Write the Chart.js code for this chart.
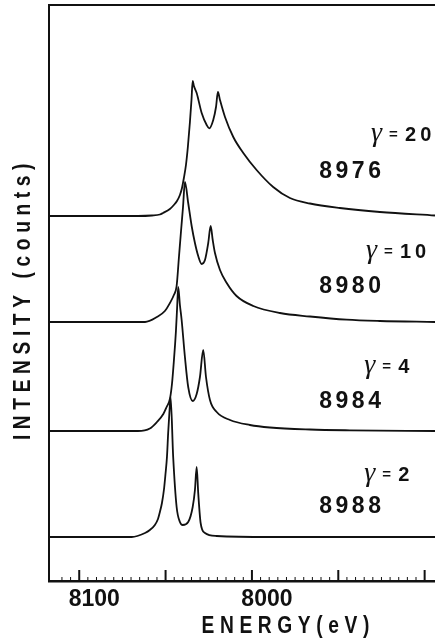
<!DOCTYPE html>
<html>
<head>
<meta charset="utf-8">
<script src="https://cdn.jsdelivr.net/npm/chart.js@4.4.1/dist/chart.umd.min.js"></script>
<style>
  html, body { margin: 0; padding: 0; background: #fff; }
</style>
</head>
<body>
<canvas id="myChart" width="435" height="640"></canvas>
<script>
// Spectra: energy (eV) and intensity above each baseline
var energy20 = [8117.5, 8088.0, 8066.0, 8057.9, 8053.3, 8051.5, 8047.5, 8045.2, 8043.4, 8041.7, 8040.5, 8039.4,
  8038.2, 8037.1, 8035.9, 8035.0, 8034.3, 8033.6, 8032.0, 8029.1, 8026.2, 8024.7, 8022.4, 8020.8, 8019.7, 8018.5,
  8015.6, 8010.8, 8005.0, 7997.3, 7987.7, 7978.0, 7966.4, 7949.1, 7925.9, 7894.0];
var counts20 = [0, 0, 0, 0.5, 1.5, 3, 7, 11, 15, 21, 28, 38,
  51, 69, 94, 116, 135, 130, 123, 103, 91, 87.7, 96, 109, 124, 116,
  99, 79, 63, 46, 29, 18, 12.5, 8, 4, 0.5];

var energy10 = [8117.5, 8088.0, 8061.9, 8055.0, 8050.4, 8047.5, 8045.2, 8043.6, 8042.3, 8041.1, 8039.9, 8038.8,
  8036.9, 8034.9, 8033.0, 8031.1, 8029.1, 8027.2, 8025.3, 8023.9, 8022.7, 8021.4, 8018.5, 8014.6, 8008.9, 7999.2,
  7983.8, 7966.4, 7945.2, 7925.9, 7894.0];
var counts10 = [0, 0, 0, 5, 11, 19, 27, 36, 64, 90, 115, 140,
  119, 96, 79, 66, 58, 62, 79, 96, 82, 69, 52, 39, 26, 16,
  9, 5.5, 2.3, 1, 0];

var energy4 = [8117.5, 8088.0, 8066.0, 8059.1, 8055.0, 8051.3, 8049.4, 8047.5, 8046.3, 8045.2, 8044.0, 8043.3,
  8042.7, 8041.7, 8040.7, 8038.8, 8036.9, 8034.3, 8032.0, 8030.1, 8028.2, 8026.6, 8024.3, 8020.4, 8012.7, 8001.2,
  7989.6, 7966.4, 7943.3, 7894.0];
var counts4 = [0, 0, 0, 2.5, 9, 17, 24, 32, 47, 70, 100, 124,
  144, 126, 111, 74, 44, 30, 37, 54, 81, 54, 31, 19, 11, 6,
  3.5, 1.5, 0.7, 0];

var energy2 = [8117.5, 8088.0, 8069.6, 8061.9, 8059.1, 8056.2, 8054.4, 8053.3, 8052.1, 8050.9, 8050.1, 8049.2,
  8048.5, 8047.8, 8047.1, 8045.6, 8043.6, 8041.7, 8040.1, 8036.9, 8034.3, 8033.0, 8032.0, 8031.1, 8029.7, 8027.2,
  8020.4, 7989.6, 7894.0];
var counts2 = [0, 0, 0, 4, 7, 12, 18, 25, 34, 48, 62, 80,
  104, 124, 140, 80, 30, 15, 12, 15, 30, 47, 70, 44, 14, 4,
  1, 0, 0];

// vertical shift of each spectrum in the stack (same units as the counts)
var offsets = [365, 259, 150, 44];
var gammas = ['20', '10', '4', '2'];
var edgeLabels = ['8976', '8980', '8984', '8988'];
var xTickLabels = [8100, 8000];

var ink = '#111';

function toPoints(energy, counts, offset) {
  return energy.map((e, i) => ({ x: e, y: counts[i] + offset }));
}

var spectra = [[energy20, counts20], [energy10, counts10], [energy4, counts4], [energy2, counts2]];

// condensed, letter-spaced lettering like the original figure
function lettering(ctx, text, x, y, angle) {
  ctx.save();
  ctx.translate(x, y);
  ctx.rotate(angle);
  ctx.scale(0.8, 1);
  ctx.font = 'bold 24px "Liberation Sans", Arial, sans-serif';
  ctx.letterSpacing = '7px';
  ctx.textAlign = 'center';
  ctx.textBaseline = 'middle';
  ctx.fillText(text, 0, 0);
  ctx.restore();
}

var decorations = {
  id: 'decorations',
  afterDraw(chart, args, opts) {
    var ctx = chart.ctx, xs = chart.scales.x, ys = chart.scales.y, area = chart.chartArea;
    ctx.save();
    ctx.strokeStyle = ink;
    ctx.fillStyle = ink;

    // inward tick marks: long every 50 eV, short every 5 eV
    xs.ticks.forEach(t => {
      if (t.value % 5 !== 0) return;
      var px = xs.getPixelForValue(t.value);
      var major = t.value % 50 === 0;
      ctx.lineWidth = major ? 2 : 1;
      ctx.beginPath();
      ctx.moveTo(px, area.bottom);
      ctx.lineTo(px, area.bottom - (major ? 11 : 4));
      ctx.stroke();
    });

    // top frame line
    ctx.lineWidth = 2;
    ctx.beginPath();
    ctx.moveTo(area.left, area.top);
    ctx.lineTo(area.right, area.top);
    ctx.stroke();

    // axis titles
    lettering(ctx, 'ENERGY(eV)', xs.getPixelForValue(opts.titleEnergy), xs.bottom - 14, 0);
    lettering(ctx, 'INTENSITY (counts)', 23, ys.getPixelForValue(opts.titleIntensity), -Math.PI / 2);

    // labels beside each spectrum
    ctx.textBaseline = 'middle';
    ctx.textAlign = 'left';
    gammas.forEach((g, i) => {
      var gx = xs.getPixelForValue(opts.gammaEnergy[i]);
      var gy = ys.getPixelForValue(opts.gammaIntensity[i]);
      ctx.letterSpacing = '0px';
      ctx.font = 'italic 28px "Liberation Serif", "Times New Roman", serif';
      ctx.fillText('\u03B3', gx, gy - 1);
      ctx.font = 'bold 15px "Liberation Sans", Arial, sans-serif';
      ctx.fillText('=', gx + 18, gy);
      ctx.font = 'bold 20px "Liberation Sans", Arial, sans-serif';
      ctx.letterSpacing = '4px';
      ctx.fillText(g, gx + 34, gy);

      ctx.font = 'bold 23px "Liberation Sans", Arial, sans-serif';
      ctx.letterSpacing = '3.5px';
      ctx.fillText(edgeLabels[i], xs.getPixelForValue(opts.edgeEnergy), ys.getPixelForValue(opts.edgeIntensity[i]));
    });
    ctx.restore();
  }
};

var ctx = document.getElementById('myChart').getContext('2d');

var myChart = new Chart(ctx, {
  type: 'line',
  data: {
    datasets: spectra.map((s, i) => ({
      label: '\u03B3 = ' + gammas[i],
      data: toPoints(s[0], s[1], offsets[i]),
      borderColor: ink,
      borderWidth: 1.8,
      pointRadius: 0,
      fill: false,
      cubicInterpolationMode: 'monotone'
    }))
  },
  options: {
    responsive: false,
    animation: false,
    devicePixelRatio: 1,
    layout: { padding: { top: 5, left: 0, right: 0, bottom: 0 } },
    plugins: {
      legend: { display: false },
      tooltip: { enabled: false },
      decorations: {
        titleEnergy: 7979,
        titleIntensity: 282,
        gammaEnergy: [7931, 7934, 7935, 7935],
        gammaIntensity: [446, 329, 214, 106],
        edgeEnergy: 7961,
        edgeIntensity: [409, 294, 179, 74]
      }
    },
    scales: {
      x: {
        type: 'linear',
        reverse: true,
        min: 7894,
        max: 8117.5,
        afterFit: s => { s.height = 59; },
        grid: { display: false },
        border: { display: true, color: ink, width: 2.5 },
        ticks: {
          stepSize: 5,
          autoSkip: false,
          maxRotation: 0,
          labelOffset: 15,
          padding: -3,
          color: ink,
          font: { family: '"Liberation Sans", Arial, sans-serif', size: 23, weight: 'bold' },
          callback: v => xTickLabels.includes(v) ? String(v) : ''
        }
      },
      y: {
        min: 0,
        max: 576,
        afterFit: s => { s.width = 49; },
        grid: { display: false },
        border: { display: true, color: ink, width: 2 },
        ticks: { display: false }
      }
    }
  },
  plugins: [decorations]
});
</script>
</body>
</html>
